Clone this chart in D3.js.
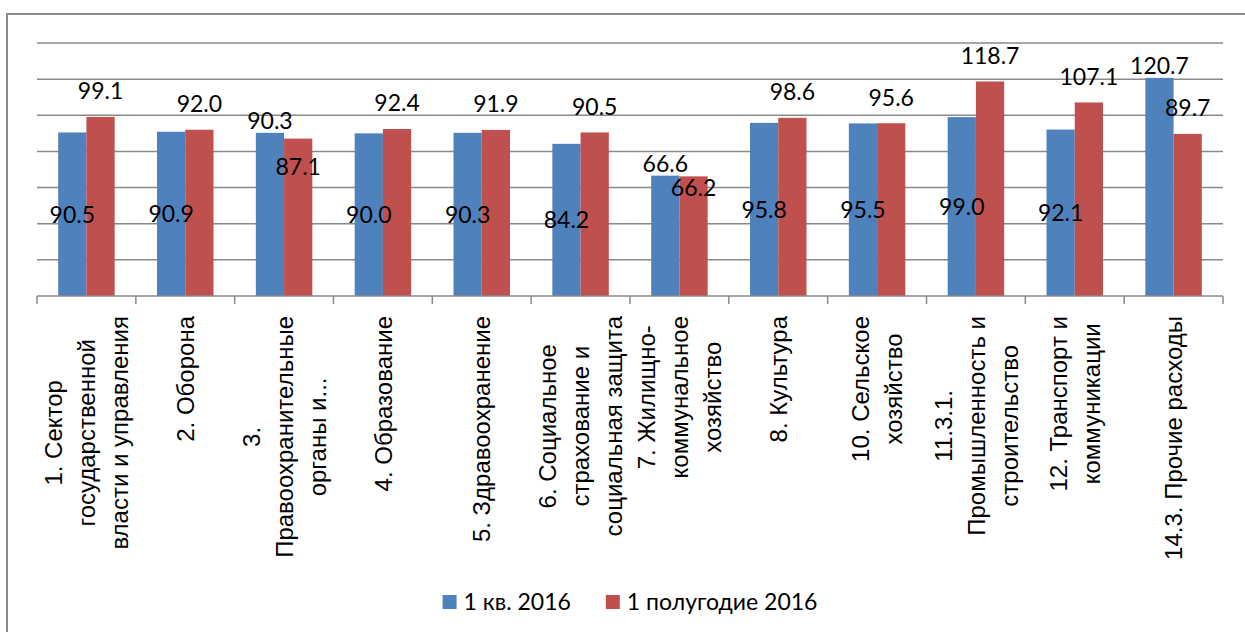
<!DOCTYPE html>
<html>
<head>
<meta charset="utf-8">
<script src="https://cdn.jsdelivr.net/npm/d3@7"></script>
<style>
  body { margin: 0; background: #fff; }
  text { fill: #000; }
</style>
</head>
<body>
<div id="chart"></div>
<script>
// Categories (line breaks as in the original axis labels).
const categories = [
  "1. Сектор\nгосударственной\nвласти и управления",
  "2. Оборона",
  "3.\nПравоохранительные\nорганы и...",
  "4. Образование",
  "5. Здравоохранение",
  "6. Социальное\nстрахование и\nсоциальная защита",
  "7. Жилищно-\nкоммунальное\nхозяйство",
  "8. Культура",
  "10. Сельское\nхозяйство",
  "11.3.1.\nПромышленность и\nстроительство",
  "12. Транспорт и\nкоммуникации",
  "14.3. Прочие расходы"
];
const seriesNames = ["1 кв. 2016", "1 полугодие 2016"];
const q1 = [90.5, 90.9, 90.3, 90.0, 90.3, 84.2, 66.6, 95.8, 95.5, 99.0, 92.1, 120.7];
const h1 = [99.1, 92.0, 87.1, 92.4, 91.9, 90.5, 66.2, 98.6, 95.6, 118.7, 107.1, 89.7];
const yTicks = [20, 40, 60, 80, 100, 120, 140];

// where each data label sits (as placed in the original)
const q1LabelPos = ["mid", "mid", "out", "mid", "mid", "mid", "out", "mid", "mid", "mid", "mid", "out"];
const h1LabelPos = ["above", "above", "below", "above", "above", "above", "inside", "above", "above", "above", "above", "above"];

const width = 1245, height = 632;
const marginTop = 43, marginLeft = 37, plotRight = 1223, plotBottom = 296;
const colors = ["#4F81BD", "#C0504D"];
const grid = "#8a8a8a";
const valueFont = "Lato, Calibri, sans-serif";
const catFont = "'Liberation Sans', Arial, sans-serif";

const svg = d3.select("#chart").append("svg")
    .attr("width", width)
    .attr("height", height)
    .attr("viewBox", [0, 0, width, height]);

// outer chart border
svg.append("rect")
    .attr("x", 7).attr("y", 14)
    .attr("width", width + 10).attr("height", height + 10)
    .attr("fill", "none")
    .attr("stroke", grid)
    .attr("stroke-width", 2);

const x = d3.scaleBand()
    .domain(d3.range(categories.length))
    .range([marginLeft, plotRight])
    .paddingInner(0).paddingOuter(0);

const x1 = d3.scaleBand()
    .domain([0, 1])
    .range([0, x.bandwidth()])
    .paddingInner(0)
    .paddingOuter(0.75);

const y = d3.scaleLinear()
    .domain([0, 140])
    .range([plotBottom, marginTop]);

// gridlines
svg.append("g")
  .selectAll("line")
  .data(yTicks)
  .join("line")
    .attr("x1", marginLeft).attr("x2", plotRight)
    .attr("y1", d => y(d)).attr("y2", d => y(d))
    .attr("stroke", grid)
    .attr("stroke-width", 1.5);

// bars
const data = categories.map((c, i) => ({ i, vals: [q1[i], h1[i]] }));

const group = svg.append("g")
  .selectAll("g")
  .data(data)
  .join("g")
    .attr("transform", d => `translate(${x(d.i)},0)`);

group.selectAll("rect")
  .data(d => d.vals.map((v, s) => ({ v, s })))
  .join("rect")
    .attr("x", d => x1(d.s))
    .attr("y", d => y(d.v))
    .attr("width", x1.bandwidth())
    .attr("height", d => y(0) - y(d.v))
    .attr("fill", d => colors[d.s]);

// x axis line + ticks
const axis = svg.append("g");
axis.append("line")
    .attr("x1", marginLeft).attr("x2", plotRight)
    .attr("y1", plotBottom).attr("y2", plotBottom)
    .attr("stroke", grid).attr("stroke-width", 1.5);
axis.selectAll("line.tick")
  .data(d3.range(categories.length + 1))
  .join("line")
    .attr("class", "tick")
    .attr("x1", d => marginLeft + d * x.bandwidth())
    .attr("x2", d => marginLeft + d * x.bandwidth())
    .attr("y1", plotBottom).attr("y2", plotBottom + 8)
    .attr("stroke", grid).attr("stroke-width", 1.5);

// data labels
function labelY(v, pos) {
  if (pos === "mid") return (y(v) + y(0)) / 2;
  if (pos === "out") return y(v) - 12;
  if (pos === "above") return y(v) - 26;
  if (pos === "inside") return y(v) + 11;
  if (pos === "below") return y(v) + 28;
  return y(v);
}
const labelPos = [q1LabelPos, h1LabelPos];

group.selectAll("text")
  .data(d => d.vals.map((v, s) => ({ v, s, i: d.i })))
  .join("text")
    .attr("x", d => x1(d.s) + x1.bandwidth() / 2)
    .attr("y", d => labelY(d.v, labelPos[d.s][d.i]))
    .attr("dy", "0.36em")
    .attr("text-anchor", "middle")
    .style("font-family", valueFont)
    .style("font-size", "23px")
    .text(d => d.v.toFixed(1));

// category labels, rotated, lines centred on the longest one
const lineH = 33;
const catLabels = svg.append("g")
  .selectAll("g")
  .data(categories.map((c, i) => ({ i, lines: c.split("\n") })))
  .join("g");

catLabels.each(function(d) {
  const g = d3.select(this);
  const texts = g.selectAll("text")
    .data(d.lines)
    .join("text")
      .attr("x", 0)
      .attr("y", (t, k) => (k - (d.lines.length - 1) / 2) * lineH)
      .attr("dy", "0.36em")
      .attr("text-anchor", "middle")
      .style("font-family", catFont)
      .style("font-size", "24px")
      .text(t => t);
  let maxLen = 0;
  texts.each(function() { maxLen = Math.max(maxLen, this.getComputedTextLength()); });
  const cx = x(d.i) + x.bandwidth() / 2;
  g.attr("transform", `translate(${cx},${plotBottom + 20 + maxLen / 2}) rotate(-90)`);
});

// legend
const legend = svg.append("g");
const items = legend.selectAll("g")
  .data(seriesNames)
  .join("g");
items.append("rect")
    .attr("width", 14).attr("height", 14)
    .attr("y", -7)
    .attr("fill", (d, i) => colors[i]);
items.append("text")
    .attr("x", 21)
    .attr("dy", "0.36em")
    .style("font-family", valueFont)
    .style("font-size", "23px")
    .text(d => d);
let offs = 0;
items.each(function() {
  d3.select(this).attr("transform", `translate(${offs},0)`);
  offs += this.getBBox().width + 35;
});
const legendW = offs - 35;
legend.attr("transform", `translate(${(marginLeft + plotRight) / 2 - legendW / 2},602)`);
</script>
</body>
</html>
